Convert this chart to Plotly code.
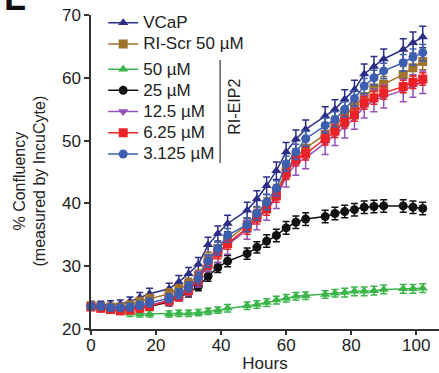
import plotly.graph_objects as go

# Time points (hours) of the IncuCyte scans
hours = [0, 3, 6, 9, 12, 15, 18, 24, 27, 30, 33, 36, 39, 42, 48, 51, 54, 57,
         60, 63, 66, 72, 75, 78, 81, 84, 87, 90, 96, 99, 102]

# Mean % confluency per condition
vcap = [23.8, 23.8, 23.9, 24.0, 24.4, 25.0, 25.6, 26.4, 27.5, 28.8, 30.3, 33.4, 35.2, 36.8,
        38.9, 40.7, 42.8, 45.2, 48.2, 50.2, 51.8, 53.9, 55.0, 56.6, 58.1, 60.6, 61.8, 63.0,
        64.5, 65.6, 66.5]
ri_scr_50 = [23.7, 23.6, 23.5, 23.5, 23.8, 24.3, 24.8, 25.6, 26.3, 27.2, 28.5, 31.2, 32.8, 34.2,
             36.6, 38.2, 39.8, 41.8, 45.2, 47.3, 48.8, 51.0, 52.4, 54.0, 55.5, 57.0, 58.4, 59.0,
             60.5, 61.6, 62.6]
eip2_50 = [23.6, 23.3, 23.1, 22.8, 22.5, 22.4, 22.4, 22.4, 22.5, 22.5, 22.6, 22.8, 23.0, 23.3,
           23.7, 23.9, 24.2, 24.6, 24.9, 25.2, 25.3, 25.5, 25.7, 25.8, 26.0, 26.0, 26.1, 26.3,
           26.4, 26.4, 26.5]
eip2_25 = [23.6, 23.5, 23.3, 23.2, 23.3, 23.4, 23.6, 24.3, 25.0, 25.8, 26.8, 28.4, 29.8, 30.8,
           32.0, 33.0, 34.0, 34.9, 36.1, 37.0, 37.5, 37.9, 38.4, 38.7, 39.0, 39.4, 39.5, 39.6,
           39.6, 39.4, 39.2]
eip2_12_5 = [23.6, 23.4, 23.2, 23.1, 23.2, 23.5, 23.8, 24.6, 25.4, 26.4, 27.9, 30.4, 32.0, 33.4,
             35.8, 37.4, 38.9, 40.9, 44.3, 46.3, 47.3, 49.6, 51.0, 52.2, 53.6, 55.4, 56.4, 57.0,
             58.0, 58.7, 59.3]
eip2_6_25 = [23.5, 23.3, 23.1, 22.9, 23.0, 23.3, 23.6, 24.5, 25.2, 26.2, 27.8, 30.3, 32.1, 33.6,
             36.1, 37.7, 39.1, 41.2, 44.8, 47.0, 47.9, 50.3, 51.5, 53.0, 54.1, 56.0, 56.8, 57.6,
             58.6, 59.3, 59.8]
eip2_3_125 = [23.6, 23.6, 23.4, 23.4, 23.5, 23.8, 24.2, 24.9, 25.6, 26.7, 28.1, 30.8, 32.8, 34.9,
              36.6, 38.4, 40.2, 42.4, 46.3, 48.2, 50.3, 52.4, 53.4, 55.0, 56.7, 58.7, 60.0, 61.1,
              62.4, 63.3, 64.0]

# Error (SEM) per condition
vcap_err = [0.6, 0.6, 0.6, 0.6, 0.7, 0.8, 0.9, 0.9, 1.0, 1.0, 1.1, 1.2, 1.2, 1.3, 1.3, 1.3,
            1.4, 1.4, 1.5, 1.5, 1.5, 1.5, 1.5, 1.5, 1.5, 1.6, 1.6, 1.6, 1.7, 1.7, 1.7]
ri_scr_err = [0.5, 0.5, 0.5, 0.5, 0.6, 0.7, 0.7, 0.8, 0.8, 0.9, 0.9, 1.0, 1.0, 1.0, 1.1, 1.1,
              1.1, 1.2, 1.2, 1.2, 1.2, 1.2, 1.2, 1.2, 1.2, 1.2, 1.2, 1.2, 1.3, 1.3, 1.3]
eip2_50_err = [0.5, 0.5, 0.5, 0.5, 0.5, 0.5, 0.5, 0.5, 0.5, 0.5, 0.5, 0.5, 0.5, 0.6, 0.6, 0.6,
               0.6, 0.6, 0.6, 0.6, 0.6, 0.6, 0.6, 0.7, 0.7, 0.7, 0.7, 0.7, 0.7, 0.7, 0.7]
eip2_25_err = [0.5, 0.5, 0.5, 0.5, 0.5, 0.5, 0.6, 0.6, 0.6, 0.7, 0.7, 0.8, 0.8, 0.9, 0.9, 0.9,
               1.0, 1.0, 1.0, 1.0, 1.0, 1.0, 1.0, 1.0, 1.0, 1.0, 1.0, 1.0, 1.0, 1.0, 1.0]
eip2_12_5_err = [0.6, 0.6, 0.6, 0.6, 0.7, 0.7, 0.8, 0.9, 1.0, 1.1, 1.2, 1.3, 1.4, 1.5, 1.5, 1.6,
                 1.6, 1.7, 1.7, 1.8, 1.8, 1.8, 1.8, 1.8, 1.8, 1.8, 1.8, 1.8, 1.8, 1.8, 1.8]
eip2_6_25_err = [0.5, 0.5, 0.5, 0.5, 0.5, 0.5, 0.6, 0.6, 0.7, 0.7, 0.8, 0.8, 0.9, 0.9, 1.0, 1.0,
                 1.0, 1.0, 1.0, 1.0, 1.0, 1.0, 1.0, 1.0, 1.0, 1.0, 1.0, 1.0, 1.0, 1.0, 1.0]
eip2_3_125_err = [0.5, 0.5, 0.5, 0.5, 0.6, 0.6, 0.7, 0.7, 0.8, 0.8, 0.9, 1.0, 1.0, 1.1, 1.1, 1.1,
                  1.2, 1.2, 1.2, 1.2, 1.2, 1.2, 1.2, 1.2, 1.2, 1.2, 1.2, 1.2, 1.3, 1.3, 1.3]

x_ticks = [0, 20, 40, 60, 80, 100]
y_ticks = [20, 30, 40, 50, 60, 70]

FONT = "Liberation Sans, Arial, Helvetica, sans-serif"

# (name, values, errors, colour, symbol, legend rank, legend group) in drawing order
series = [
    ("50 µM", eip2_50, eip2_50_err, "#3bb54a", "triangle-up", 3, "eip2"),
    ("25 µM", eip2_25, eip2_25_err, "#111111", "circle", 4, "eip2"),
    ("VCaP", vcap, vcap_err, "#2b2d86", "triangle-up", 1, "ctrl"),
    ("RI-Scr 50 µM", ri_scr_50, ri_scr_err, "#a0732c", "square", 2, "ctrl"),
    ("12.5 µM", eip2_12_5, eip2_12_5_err, "#9350b8", "triangle-down", 5, "eip2"),
    ("6.25 µM", eip2_6_25, eip2_6_25_err, "#ec2227", "square", 6, "eip2"),
    ("3.125 µM", eip2_3_125, eip2_3_125_err, "#3d5fb0", "circle", 7, "eip2"),
]

fig = go.Figure()
for name, vals, errs, color, symbol, rank, group in series:
    fig.add_trace(go.Scatter(
        x=hours, y=vals, mode="lines+markers",
        name='<span style="font-size:17px">' + name + "</span>",
        legendgroup=group,
        line=dict(color=color, width=1.5),
        marker=dict(color=color, symbol=symbol, size=9),
        error_y=dict(type="data", array=errs, visible=True, color=color,
                     thickness=1.5, width=3.5),
        cliponaxis=False, legendrank=rank,
    ))

axis_common = dict(
    showline=True, linecolor="#333333", linewidth=1.5, mirror=False,
    ticks="outside", tickwidth=1.5, tickcolor="#333333",
    showgrid=False, zeroline=False,
    tickfont=dict(family=FONT, size=17, color="#222222"),
)

fig.update_xaxes(range=[0, 107], tickvals=x_ticks, ticklen=4, ticklabelstandoff=-4,
                 title=dict(text="Hours", font=dict(family=FONT, size=17, color="#222222"),
                            standoff=0),
                 **axis_common)
fig.update_yaxes(range=[20, 70], tickvals=y_ticks, ticklen=5, **axis_common)

# Y axis title (two lines)
fig.add_annotation(
    text="% Confluency<br>(measured by IncuCyte)", textangle=-90,
    xref="paper", yref="paper", x=-0.175, y=0.47, xanchor="center", yanchor="middle",
    showarrow=False, font=dict(family=FONT, size=16, color="#222222"),
)

# Bracket grouping the RI-EIP2 doses
fig.add_shape(type="line", xref="paper", yref="paper",
              x0=0.371, x1=0.371, y0=0.529, y1=0.857,
              line=dict(color="#333333", width=1.2))
fig.add_annotation(
    text="RI-EIP2", textangle=-90, xref="paper", yref="paper",
    x=0.41, y=0.707, xanchor="center", yanchor="middle", showarrow=False,
    font=dict(family=FONT, size=16, color="#222222"),
)

# Panel letter
fig.add_annotation(
    text="<b>L</b>", xref="paper", yref="paper", x=-0.256, y=0.984,
    xanchor="left", yanchor="bottom", showarrow=False,
    font=dict(family=FONT, size=36, color="#111111"),
)

fig.update_layout(
    width=439, height=373,
    margin=dict(l=91, r=0, t=15, b=44),
    plot_bgcolor="white", paper_bgcolor="white",
    showlegend=True,
    legend=dict(x=0.035, y=1.025, xanchor="left", yanchor="top",
                bgcolor="rgba(0,0,0,0)", font=dict(family=FONT, size=14, color="#222222"),
                itemwidth=30, tracegroupgap=4),
)

fig.write_html("out.html")
